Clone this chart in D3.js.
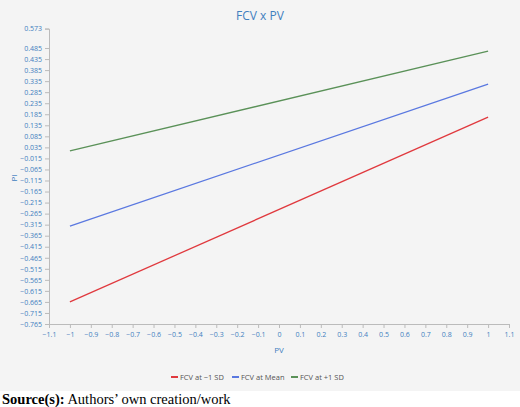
<!DOCTYPE html>
<html lang="en">
<head>
<meta charset="utf-8">
<script src="https://d3js.org/d3.v7.min.js"></script>
<style>
body { margin: 0; background: #fff; }
text { font-family: "Open Sans", sans-serif; }
</style>
</head>
<body>
<svg width="520" height="407"></svg>
<script>
var pvValues = [-1, 1];
var seriesNames = ["FCV at \u22121 SD", "FCV at Mean", "FCV at +1 SD"];
var seriesColors = ["#e0393e", "#5a78e0", "#5a9158"];
var lowSD = [-0.665, 0.172];
var meanSD = [-0.322, 0.322];
var highSD = [0.019, 0.471];
var xTicks = d3.range(-11, 12).map(function (d) { return d / 10; });
var yTicks = [0.573].concat(d3.range(0, 26).map(function (i) { return +(0.485 - i * 0.05).toFixed(3); }));

var svg = d3.select("svg");
svg.append("rect").attr("width", 520).attr("height", 391).attr("fill", "#f4f4f4");

var x = d3.scaleLinear().domain([-1.1, 1.1]).range([49, 509]);
var y = d3.scaleLinear().domain([-0.765, 0.573]).range([324, 28.6]);

var fmt = function (d) { return d === 0 ? "0" : String(d).replace("-", "\u2212"); };
var blue = "#3f7fbf";

var gx = svg.append("g").attr("transform", "translate(0,324)")
  .call(d3.axisBottom(x).tickValues(xTicks).tickFormat(fmt).tickSize(4));
var gy = svg.append("g").attr("transform", "translate(49,0)")
  .call(d3.axisLeft(y).tickValues(yTicks).tickFormat(fmt).tickSize(4));
[gx, gy].forEach(function (g) {
  g.selectAll("path,line").attr("stroke", "#bbb");
  g.selectAll("text").attr("fill", blue).style("font-size", "7px");
});
gx.selectAll("text").attr("dy", "0.9em");

var line = d3.line().x(function (d, i) { return x(pvValues[i]); }).y(function (d) { return y(d); });
[lowSD, meanSD, highSD].forEach(function (s, i) {
  svg.append("path").datum(s).attr("d", line).attr("fill", "none")
    .attr("stroke", seriesColors[i]).attr("stroke-width", 1.3);
});

svg.append("text").attr("x", 260).attr("y", 20).attr("text-anchor", "middle")
  .attr("fill", blue).style("font-size", "12px").text("FCV x PV");
svg.append("text").attr("x", 279).attr("y", 353).attr("text-anchor", "middle")
  .attr("fill", blue).style("font-size", "8px").text("PV");
svg.append("text").attr("transform", "translate(17,178) rotate(-90)").attr("text-anchor", "middle")
  .attr("fill", blue).style("font-size", "8px").text("PI");

var legX = [171, 232, 291];
seriesNames.forEach(function (n, i) {
  var g = svg.append("g").attr("transform", "translate(" + legX[i] + ",377)");
  g.append("line").attr("x1", 0).attr("x2", 7).attr("stroke", seriesColors[i]).attr("stroke-width", 2);
  g.append("text").attr("x", 9).attr("y", 2.8).attr("fill", "#555").style("font-size", "7.5px").text(n);
});

svg.append("text").attr("x", 2).attr("y", 404).style("font-family", "'Liberation Serif', serif")
  .style("font-size", "14.5px").html("<tspan font-weight='bold'>Source(s):</tspan> Authors\u2019 own creation/work");
</script>
</body>
</html>
